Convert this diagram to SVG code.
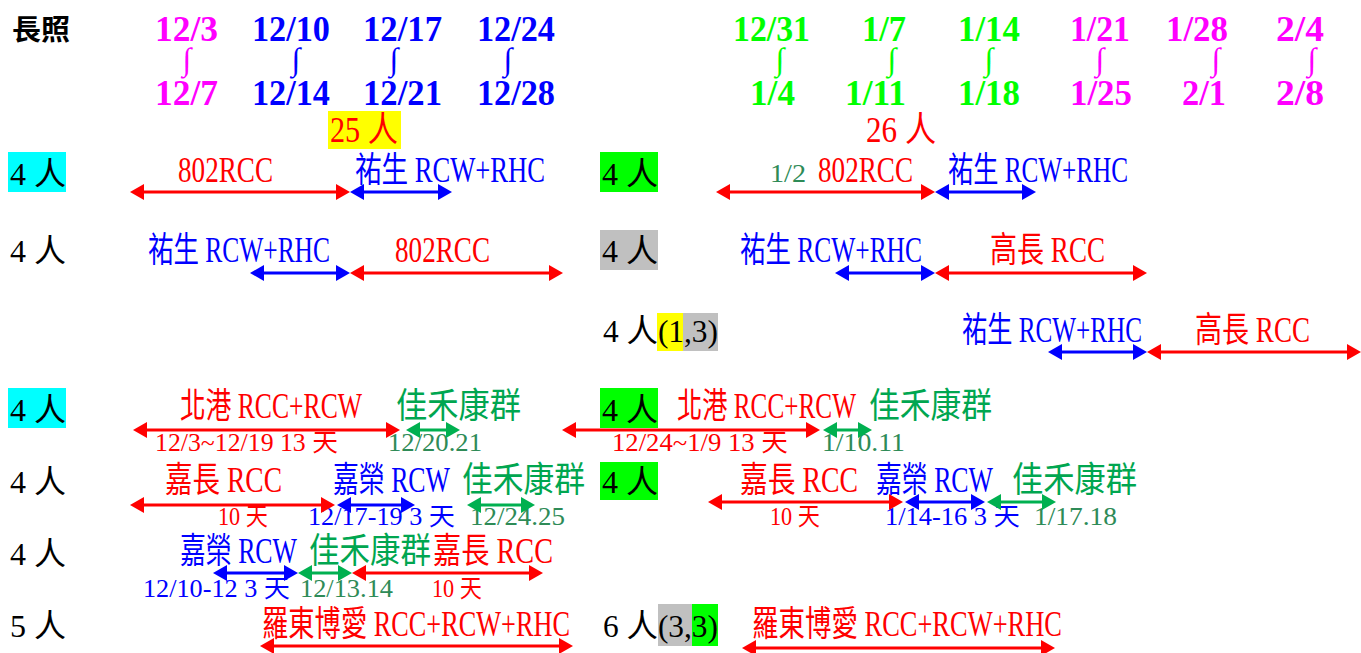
<svg xmlns="http://www.w3.org/2000/svg" width="1361" height="653" viewBox="0 0 1361 653">
<style>
text{font-family:"Liberation Serif","Noto Sans CJK TC",serif;}
.h{font-size:36px;font-weight:bold;}
.i{font-size:32px;font-weight:bold;}
.n{font-size:32px;fill:#000;}
.l{font-size:35px;}
.s{font-size:25px;}
.r{fill:#FF0000;}.b{fill:#0000FF;}.m{fill:#FF00FF;}.g{fill:#00FF00;}.k{fill:#00A650;}.sg{fill:#2E8B57;}
.ar{stroke-width:3;fill:none;}
.ar.r{stroke:#FF0000;marker-start:url(#mr);marker-end:url(#mr);}
.ar.b{stroke:#0000FF;marker-start:url(#mb);marker-end:url(#mb);}
.ar.k{stroke:#00B050;marker-start:url(#mg);marker-end:url(#mg);}
</style>
<defs>
<marker id="mr" markerUnits="userSpaceOnUse" markerWidth="14" markerHeight="16" refX="6" refY="8" orient="auto-start-reverse"><path d="M0,0 L14,8 L0,16 z" fill="#FF0000"/></marker>
<marker id="mb" markerUnits="userSpaceOnUse" markerWidth="14" markerHeight="16" refX="6" refY="8" orient="auto-start-reverse"><path d="M0,0 L14,8 L0,16 z" fill="#0000FF"/></marker>
<marker id="mg" markerUnits="userSpaceOnUse" markerWidth="14" markerHeight="16" refX="6" refY="8" orient="auto-start-reverse"><path d="M0,0 L14,8 L0,16 z" fill="#00B050"/></marker>
</defs>
<rect width="1361" height="653" fill="#fff"/>

<g id="header">
<text x="12" y="40" font-size="28" font-weight="bold" fill="#000" textLength="58" lengthAdjust="spacingAndGlyphs">長照</text>
<text class="h m" x="155" y="41" textLength="63" lengthAdjust="spacingAndGlyphs">12/3</text>
<text class="h b" x="252" y="41" textLength="78" lengthAdjust="spacingAndGlyphs">12/10</text>
<text class="h b" x="363" y="41" textLength="79" lengthAdjust="spacingAndGlyphs">12/17</text>
<text class="h b" x="477" y="41" textLength="78" lengthAdjust="spacingAndGlyphs">12/24</text>
<text class="h g" x="733" y="41" textLength="77" lengthAdjust="spacingAndGlyphs">12/31</text>
<text class="h g" x="862" y="41" textLength="44" lengthAdjust="spacingAndGlyphs">1/7</text>
<text class="h g" x="958" y="41" textLength="62" lengthAdjust="spacingAndGlyphs">1/14</text>
<text class="h m" x="1070" y="41" textLength="60" lengthAdjust="spacingAndGlyphs">1/21</text>
<text class="h m" x="1166" y="41" textLength="62" lengthAdjust="spacingAndGlyphs">1/28</text>
<text class="h m" x="1276" y="41" textLength="48" lengthAdjust="spacingAndGlyphs">2/4</text>
<g text-anchor="middle">
<text class="i m" x="187" y="70">∫</text>
<text class="i b" x="296" y="70">∫</text>
<text class="i b" x="394" y="70">∫</text>
<text class="i b" x="508" y="70">∫</text>
<text class="i g" x="780" y="70">∫</text>
<text class="i g" x="892" y="70">∫</text>
<text class="i g" x="989" y="70">∫</text>
<text class="i m" x="1100" y="70">∫</text>
<text class="i m" x="1216" y="70">∫</text>
<text class="i m" x="1312" y="70">∫</text>
</g>
<text class="h m" x="155" y="105" textLength="63" lengthAdjust="spacingAndGlyphs">12/7</text>
<text class="h b" x="252" y="105" textLength="78" lengthAdjust="spacingAndGlyphs">12/14</text>
<text class="h b" x="363" y="105" textLength="79" lengthAdjust="spacingAndGlyphs">12/21</text>
<text class="h b" x="477" y="105" textLength="78" lengthAdjust="spacingAndGlyphs">12/28</text>
<text class="h g" x="750" y="105" textLength="45" lengthAdjust="spacingAndGlyphs">1/4</text>
<text class="h g" x="845" y="105" textLength="61" lengthAdjust="spacingAndGlyphs">1/11</text>
<text class="h g" x="958" y="105" textLength="62" lengthAdjust="spacingAndGlyphs">1/18</text>
<text class="h m" x="1070" y="105" textLength="62" lengthAdjust="spacingAndGlyphs">1/25</text>
<text class="h m" x="1182" y="105" textLength="44" lengthAdjust="spacingAndGlyphs">2/1</text>
<text class="h m" x="1276" y="105" textLength="48" lengthAdjust="spacingAndGlyphs">2/8</text>
</g>

<g id="total-left">
<rect x="328" y="111" width="73" height="38" fill="#FFFF00"/>
<text class="l r" x="330" y="142" textLength="68" lengthAdjust="spacingAndGlyphs">25 人</text>
</g>
<g id="total-right">
<text class="l r" x="866" y="142" textLength="70" lengthAdjust="spacingAndGlyphs">26 人</text>
</g>

<g id="rowA-left">
<rect x="8" y="152" width="58" height="40" fill="#00FFFF"/>
<text class="n" x="10" y="185" textLength="56" lengthAdjust="spacingAndGlyphs">4 人</text>
<text class="l r" x="178" y="182" textLength="95" lengthAdjust="spacingAndGlyphs">802RCC</text>
<text class="l b" x="355" y="182" textLength="190" lengthAdjust="spacingAndGlyphs">祐生 RCW+RHC</text>
</g>
<g id="rowA-right">
<rect x="600" y="152" width="58" height="40" fill="#00FF00"/>
<text class="n" x="602" y="185" textLength="56" lengthAdjust="spacingAndGlyphs">4 人</text>
<text class="s sg" x="770" y="182" textLength="36" lengthAdjust="spacingAndGlyphs">1/2</text>
<text class="l r" x="818" y="182" textLength="95" lengthAdjust="spacingAndGlyphs">802RCC</text>
<text class="l b" x="948" y="182" textLength="180" lengthAdjust="spacingAndGlyphs">祐生 RCW+RHC</text>
</g>

<g id="rowB-left">
<text class="n" x="10" y="262" textLength="56" lengthAdjust="spacingAndGlyphs">4 人</text>
<text class="l b" x="148" y="262" textLength="182" lengthAdjust="spacingAndGlyphs">祐生 RCW+RHC</text>
<text class="l r" x="395" y="262" textLength="95" lengthAdjust="spacingAndGlyphs">802RCC</text>
</g>
<g id="rowB-right">
<rect x="600" y="230" width="58" height="40" fill="#C0C0C0"/>
<text class="n" x="602" y="262" textLength="56" lengthAdjust="spacingAndGlyphs">4 人</text>
<text class="l b" x="740" y="262" textLength="182" lengthAdjust="spacingAndGlyphs">祐生 RCW+RHC</text>
<text class="l r" x="990" y="262" textLength="115" lengthAdjust="spacingAndGlyphs">高長 RCC</text>
</g>

<g id="rowC-right">
<rect x="657" y="313" width="26" height="38" fill="#FFFF00"/>
<rect x="683" y="313" width="35" height="38" fill="#C0C0C0"/>
<text class="n" x="603" y="342" textLength="115" lengthAdjust="spacingAndGlyphs">4 人(1,3)</text>
<text class="l b" x="962" y="342" textLength="180" lengthAdjust="spacingAndGlyphs">祐生 RCW+RHC</text>
<text class="l r" x="1195" y="342" textLength="115" lengthAdjust="spacingAndGlyphs">高長 RCC</text>
</g>

<g id="rowD-left">
<rect x="8" y="388" width="58" height="40" fill="#00FFFF"/>
<text class="n" x="10" y="421" textLength="56" lengthAdjust="spacingAndGlyphs">4 人</text>
<text class="l r" x="180" y="418" textLength="182" lengthAdjust="spacingAndGlyphs">北港 RCC+RCW</text>
<text class="l k" x="396" y="418" textLength="125" lengthAdjust="spacingAndGlyphs">佳禾康群</text>
<text class="s r" x="155" y="451" textLength="183" lengthAdjust="spacingAndGlyphs">12/3~12/19 13 天</text>
<text class="s sg" x="388" y="451" textLength="94" lengthAdjust="spacingAndGlyphs">12/20.21</text>
</g>
<g id="rowD-right">
<rect x="600" y="388" width="58" height="40" fill="#00FF00"/>
<text class="n" x="602" y="421" textLength="56" lengthAdjust="spacingAndGlyphs">4 人</text>
<text class="l r" x="677" y="418" textLength="179" lengthAdjust="spacingAndGlyphs">北港 RCC+RCW</text>
<text class="l k" x="869" y="418" textLength="123" lengthAdjust="spacingAndGlyphs">佳禾康群</text>
<text class="s r" x="612" y="451" textLength="176" lengthAdjust="spacingAndGlyphs">12/24~1/9  13 天</text>
<text class="s sg" x="822" y="451" textLength="83" lengthAdjust="spacingAndGlyphs">1/10.11</text>
</g>

<g id="rowE-left">
<text class="n" x="10" y="493" textLength="56" lengthAdjust="spacingAndGlyphs">4 人</text>
<text class="l r" x="165" y="492" textLength="117" lengthAdjust="spacingAndGlyphs">嘉長 RCC</text>
<text class="l b" x="333" y="492" textLength="117" lengthAdjust="spacingAndGlyphs">嘉榮 RCW</text>
<text class="l k" x="462" y="492" textLength="123" lengthAdjust="spacingAndGlyphs">佳禾康群</text>
<text class="s r" x="218" y="525" textLength="50" lengthAdjust="spacingAndGlyphs">10 天</text>
<text class="s b" x="308" y="525" textLength="147" lengthAdjust="spacingAndGlyphs">12/17-19 3 天</text>
<text class="s sg" x="470" y="525" textLength="95" lengthAdjust="spacingAndGlyphs">12/24.25</text>
</g>
<g id="rowE-right">
<rect x="600" y="462" width="58" height="38" fill="#00FF00"/>
<text class="n" x="602" y="493" textLength="56" lengthAdjust="spacingAndGlyphs">4 人</text>
<text class="l r" x="740" y="492" textLength="118" lengthAdjust="spacingAndGlyphs">嘉長 RCC</text>
<text class="l b" x="876" y="492" textLength="117" lengthAdjust="spacingAndGlyphs">嘉榮 RCW</text>
<text class="l k" x="1012" y="492" textLength="125" lengthAdjust="spacingAndGlyphs">佳禾康群</text>
<text class="s r" x="770" y="525" textLength="50" lengthAdjust="spacingAndGlyphs">10 天</text>
<text class="s b" x="885" y="525" textLength="135" lengthAdjust="spacingAndGlyphs">1/14-16 3 天</text>
<text class="s sg" x="1034" y="525" textLength="83" lengthAdjust="spacingAndGlyphs">1/17.18</text>
</g>

<g id="rowF-left">
<text class="n" x="10" y="565" textLength="56" lengthAdjust="spacingAndGlyphs">4 人</text>
<text class="l b" x="180" y="563" textLength="117" lengthAdjust="spacingAndGlyphs">嘉榮 RCW</text>
<text class="l k" x="309" y="563" textLength="122" lengthAdjust="spacingAndGlyphs">佳禾康群</text>
<text class="l r" x="433" y="563" textLength="120" lengthAdjust="spacingAndGlyphs">嘉長 RCC</text>
<text class="s b" x="143" y="597" textLength="147" lengthAdjust="spacingAndGlyphs">12/10-12 3 天</text>
<text class="s sg" x="300" y="597" textLength="93" lengthAdjust="spacingAndGlyphs">12/13.14</text>
<text class="s r" x="432" y="597" textLength="50" lengthAdjust="spacingAndGlyphs">10 天</text>
</g>

<g id="rowG-left">
<text class="n" x="10" y="637" textLength="56" lengthAdjust="spacingAndGlyphs">5 人</text>
<text class="l r" x="262" y="636" textLength="308" lengthAdjust="spacingAndGlyphs">羅東博愛 RCC+RCW+RHC</text>
</g>
<g id="rowG-right">
<rect x="658" y="604" width="34" height="42" fill="#C0C0C0"/>
<rect x="692" y="604" width="26" height="42" fill="#00FF00"/>
<text class="n" x="603" y="637" textLength="115" lengthAdjust="spacingAndGlyphs">6 人(3,3)</text>
<text class="l r" x="752" y="636" textLength="310" lengthAdjust="spacingAndGlyphs">羅東博愛 RCC+RCW+RHC</text>
</g>

<g id="connectors">
<line class="ar r" x1="138" y1="192" x2="342" y2="192"/>
<line class="ar b" x1="358" y1="192" x2="444" y2="192"/>
<line class="ar r" x1="724" y1="192" x2="927" y2="192"/>
<line class="ar b" x1="943" y1="192" x2="1028" y2="192"/>
<line class="ar b" x1="258" y1="273" x2="342" y2="273"/>
<line class="ar r" x1="358" y1="273" x2="555" y2="273"/>
<line class="ar b" x1="843" y1="273" x2="927" y2="273"/>
<line class="ar r" x1="943" y1="273" x2="1139" y2="273"/>
<line class="ar b" x1="1056" y1="352" x2="1139" y2="352"/>
<line class="ar r" x1="1155" y1="352" x2="1353" y2="352"/>
<line class="ar r" x1="141" y1="430" x2="392" y2="430"/>
<line class="ar k" x1="414" y1="430" x2="452" y2="430"/>
<line class="ar r" x1="570" y1="430" x2="812" y2="430"/>
<line class="ar k" x1="831" y1="430" x2="864" y2="430"/>
<line class="ar r" x1="138" y1="505" x2="327" y2="505"/>
<line class="ar b" x1="345" y1="505" x2="407" y2="505"/>
<line class="ar k" x1="475" y1="505" x2="527" y2="505"/>
<line class="ar r" x1="716" y1="502" x2="895" y2="502"/>
<line class="ar b" x1="913" y1="502" x2="977" y2="502"/>
<line class="ar k" x1="995" y1="502" x2="1048" y2="502"/>
<line class="ar b" x1="221" y1="573" x2="290" y2="573"/>
<line class="ar k" x1="306" y1="573" x2="344" y2="573"/>
<line class="ar r" x1="360" y1="573" x2="535" y2="573"/>
<line class="ar r" x1="268" y1="646" x2="565" y2="646"/>
<line class="ar r" x1="750" y1="648" x2="1047" y2="648"/>
</g>
</svg>
